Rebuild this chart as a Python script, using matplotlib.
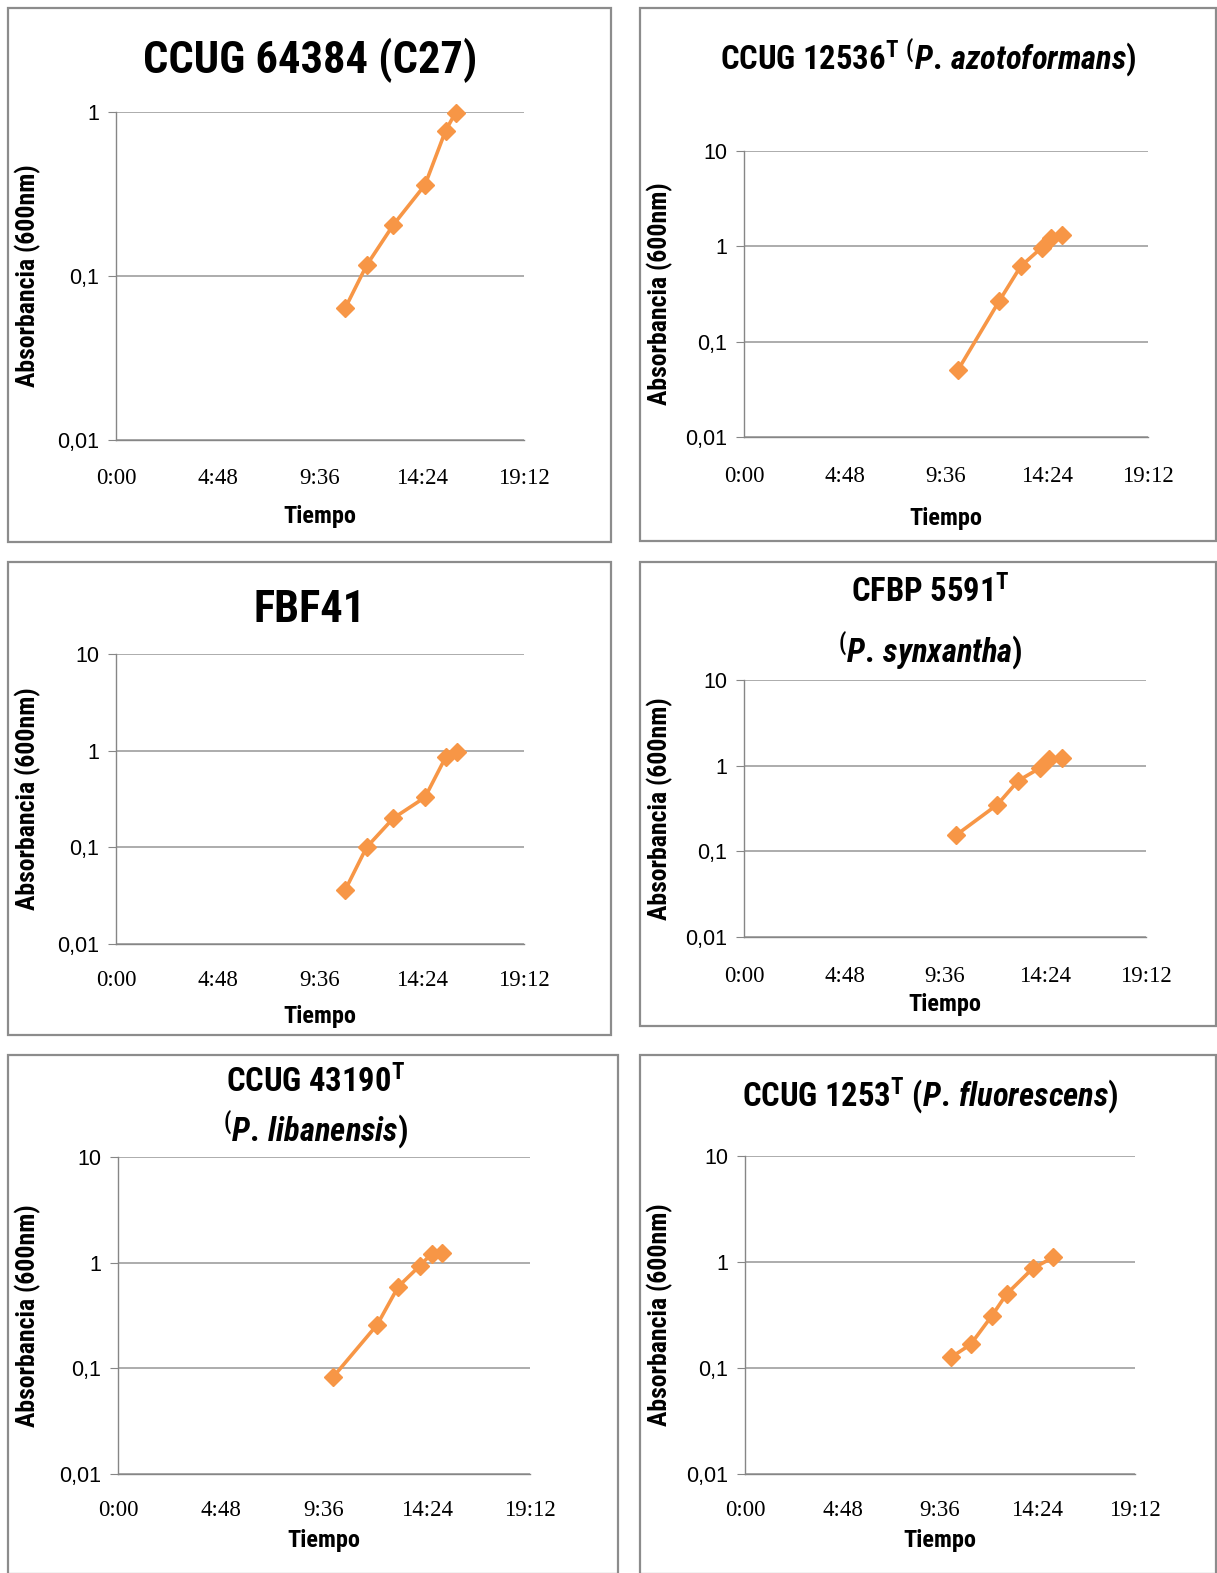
import matplotlib
matplotlib.use("Agg")
import matplotlib.pyplot as plt
from matplotlib import font_manager
from matplotlib.patches import Rectangle
from matplotlib.ticker import FixedLocator, NullLocator

# ---------------- data (time in hours, absorbance at 600 nm) ----------------
c27_t = [10.78, 11.79, 13.05, 14.54, 15.51, 15.98]
c27_v = [0.0635, 0.116, 0.205, 0.359, 0.77, 0.99]

azo_t = [10.16, 12.12, 13.15, 14.15, 14.58, 15.13]
azo_v = [0.050, 0.265, 0.617, 0.97, 1.23, 1.30]

fbf_t = [10.78, 11.79, 13.05, 14.54, 15.51, 16.03]
fbf_v = [0.036, 0.100, 0.200, 0.329, 0.853, 0.976]

syn_t = [10.12, 12.10, 13.10, 14.14, 14.57, 15.17]
syn_v = [0.154, 0.351, 0.668, 0.94, 1.20, 1.23]

lib_t = [10.03, 12.08, 13.06, 14.07, 14.62, 15.08]
lib_v = [0.083, 0.259, 0.593, 0.937, 1.22, 1.24]

flu_t = [10.14, 11.11, 12.15, 12.88, 14.17, 15.18]
flu_v = [0.126, 0.167, 0.31, 0.499, 0.872, 1.107]

x_ticks = [0, 4.8, 9.6, 14.4, 19.2]
x_tick_labels = ["0:00", "4:48", "9:36", "14:24", "19:12"]
y_ticks = [0.01, 0.1, 1, 10]
y_tick_labels = ["0,01", "0,1", "1", "10"]

# ---------------- fonts ----------------
def pick(cands):
    for c in cands:
        try:
            font_manager.findfont(font_manager.FontProperties(family=c), fallback_to_default=False)
            return c
        except Exception:
            pass
    return "DejaVu Sans"

TFONT = pick(["Liberation Sans Narrow", "Roboto Condensed", "Open Sans Condensed", "Lato", "DejaVu Sans"])
YFONT = pick(["Liberation Sans", "DejaVu Sans"])
XFONT = pick(["Liberation Serif", "DejaVu Serif"])

plt.rcParams["mathtext.fontset"] = "custom"
plt.rcParams["mathtext.rm"] = f"{TFONT}:bold"
plt.rcParams["mathtext.it"] = f"{TFONT}:italic:bold"
plt.rcParams["mathtext.bf"] = f"{TFONT}:bold"

W, H = 1217, 1573
fig = plt.figure(figsize=(W / 100, H / 100), dpi=100)
fig.patch.set_facecolor("white")

ORANGE = "#F79646"
GRID = "#A6A6A6"
BORDER = "#8C8C8C"


def fx(x):
    return x / W


def fy(y):
    return 1 - y / H


def border(x0, y0, x1, y1):
    fig.patches.append(Rectangle((fx(x0), fy(y1)), fx(x1 - x0), (y1 - y0) / H,
                                 transform=fig.transFigure, fill=False,
                                 edgecolor=BORDER, linewidth=1.6, zorder=0))


def panel(rect, t, v, top, ylabel_x, xlabel_y, xtick_pad):
    l, tp, r, b = rect
    ax = fig.add_axes([fx(l), fy(b), fx(r - l), (b - tp) / H])
    ax.set_yscale("log")
    ax.set_xlim(0, 19.2)
    ax.plot(t, v, color=ORANGE, lw=2.6, marker="D", ms=9.5, mec=ORANGE, mfc=ORANGE,
            solid_joinstyle="round", zorder=3, clip_on=False)
    for s in ["top", "right"]:
        ax.spines[s].set_visible(False)
    for s in ["left", "bottom"]:
        ax.spines[s].set_color("#868686")
        ax.spines[s].set_linewidth(1.0)
    ax.xaxis.set_major_locator(FixedLocator(x_ticks))
    ax.set_xticklabels(x_tick_labels, fontfamily=XFONT, fontsize=16.5)
    ticks = [y for y in y_ticks if y <= top]
    ax.set_ylim(0.01, top)
    ax.yaxis.set_major_locator(FixedLocator(ticks))
    ax.set_yticklabels(y_tick_labels[:len(ticks)], fontfamily=YFONT, fontsize=15.5)
    ax.yaxis.set_minor_locator(NullLocator())
    ax.tick_params(axis="x", length=0, pad=xtick_pad)
    ax.tick_params(axis="y", length=6, color="#868686", pad=6)
    ax.grid(axis="y", which="major", color=GRID, lw=1.3)
    ax.set_axisbelow(True)
    cy = (tp + b) / 2
    fig.text(fx(ylabel_x), fy(cy), "Absorbancia (600nm)", rotation=90, ha="center",
             va="center", fontsize=18.5, fontweight="bold", fontfamily=TFONT)
    fig.text(fx((l + r) / 2), fy(xlabel_y), "Tiempo", ha="center", va="center",
             fontsize=17.5, fontweight="bold", fontfamily=TFONT)
    return ax


# Panel borders
border(8, 8, 611, 542)
border(640, 8, 1216, 541)
border(8, 562, 611, 1035)
border(640, 562, 1216, 1026)
border(8, 1055, 618, 1574)
border(640, 1055, 1216, 1574)

TS = 23.5

# Panel 1
panel((116, 112, 524, 440), c27_t, c27_v, 1, 28, 516, 20)
fig.text(fx(310), fy(60), "CCUG 64384 (C27)", ha="center", va="center",
         fontsize=32, fontweight="bold", fontfamily=TFONT)

# Panel 2
panel((744, 151, 1148, 437), azo_t, azo_v, 10, 660, 519, 21)
fig.text(fx(928), fy(58), r"CCUG 12536$^{\mathrm{T}\ \,(}$$\mathit{P.\,azotoformans)}$",
         ha="center", va="center", fontsize=TS, fontweight="bold", fontfamily=TFONT)

# Panel 3
panel((116, 654, 524, 944), fbf_t, fbf_v, 10, 28, 1016, 19)
fig.text(fx(310), fy(610), "FBF41", ha="center", va="center",
         fontsize=32, fontweight="bold", fontfamily=TFONT)

# Panel 4
panel((744, 680, 1146, 937), syn_t, syn_v, 10, 660, 1005, 21)
fig.text(fx(930), fy(592), r"CFBP 5591$^{\mathrm{T}}$", ha="center", va="center",
         fontsize=TS, fontweight="bold", fontfamily=TFONT)
fig.text(fx(930), fy(651), r"$^{(}$$\mathit{P.\,synxantha)}$", ha="center", va="center",
         fontsize=TS, fontweight="bold", fontfamily=TFONT)

# Panel 5
panel((118, 1157, 530, 1474), lib_t, lib_v, 10, 28, 1541, 19)
fig.text(fx(316), fy(1082), r"CCUG 43190$^{\mathrm{T}}$", ha="center", va="center",
         fontsize=TS, fontweight="bold", fontfamily=TFONT)
fig.text(fx(316), fy(1130), r"$^{(}$$\mathit{P.\,libanensis)}$", ha="center", va="center",
         fontsize=TS, fontweight="bold", fontfamily=TFONT)

# Panel 6
panel((745, 1156, 1135, 1474), flu_t, flu_v, 10, 660, 1541, 19)
fig.text(fx(930), fy(1096), r"CCUG 1253$^{\mathrm{T}}$ $\mathit{(P.\,fluorescens)}$",
         ha="center", va="center", fontsize=TS, fontweight="bold", fontfamily=TFONT)

fig.savefig("out.png", dpi=100, facecolor="white")
